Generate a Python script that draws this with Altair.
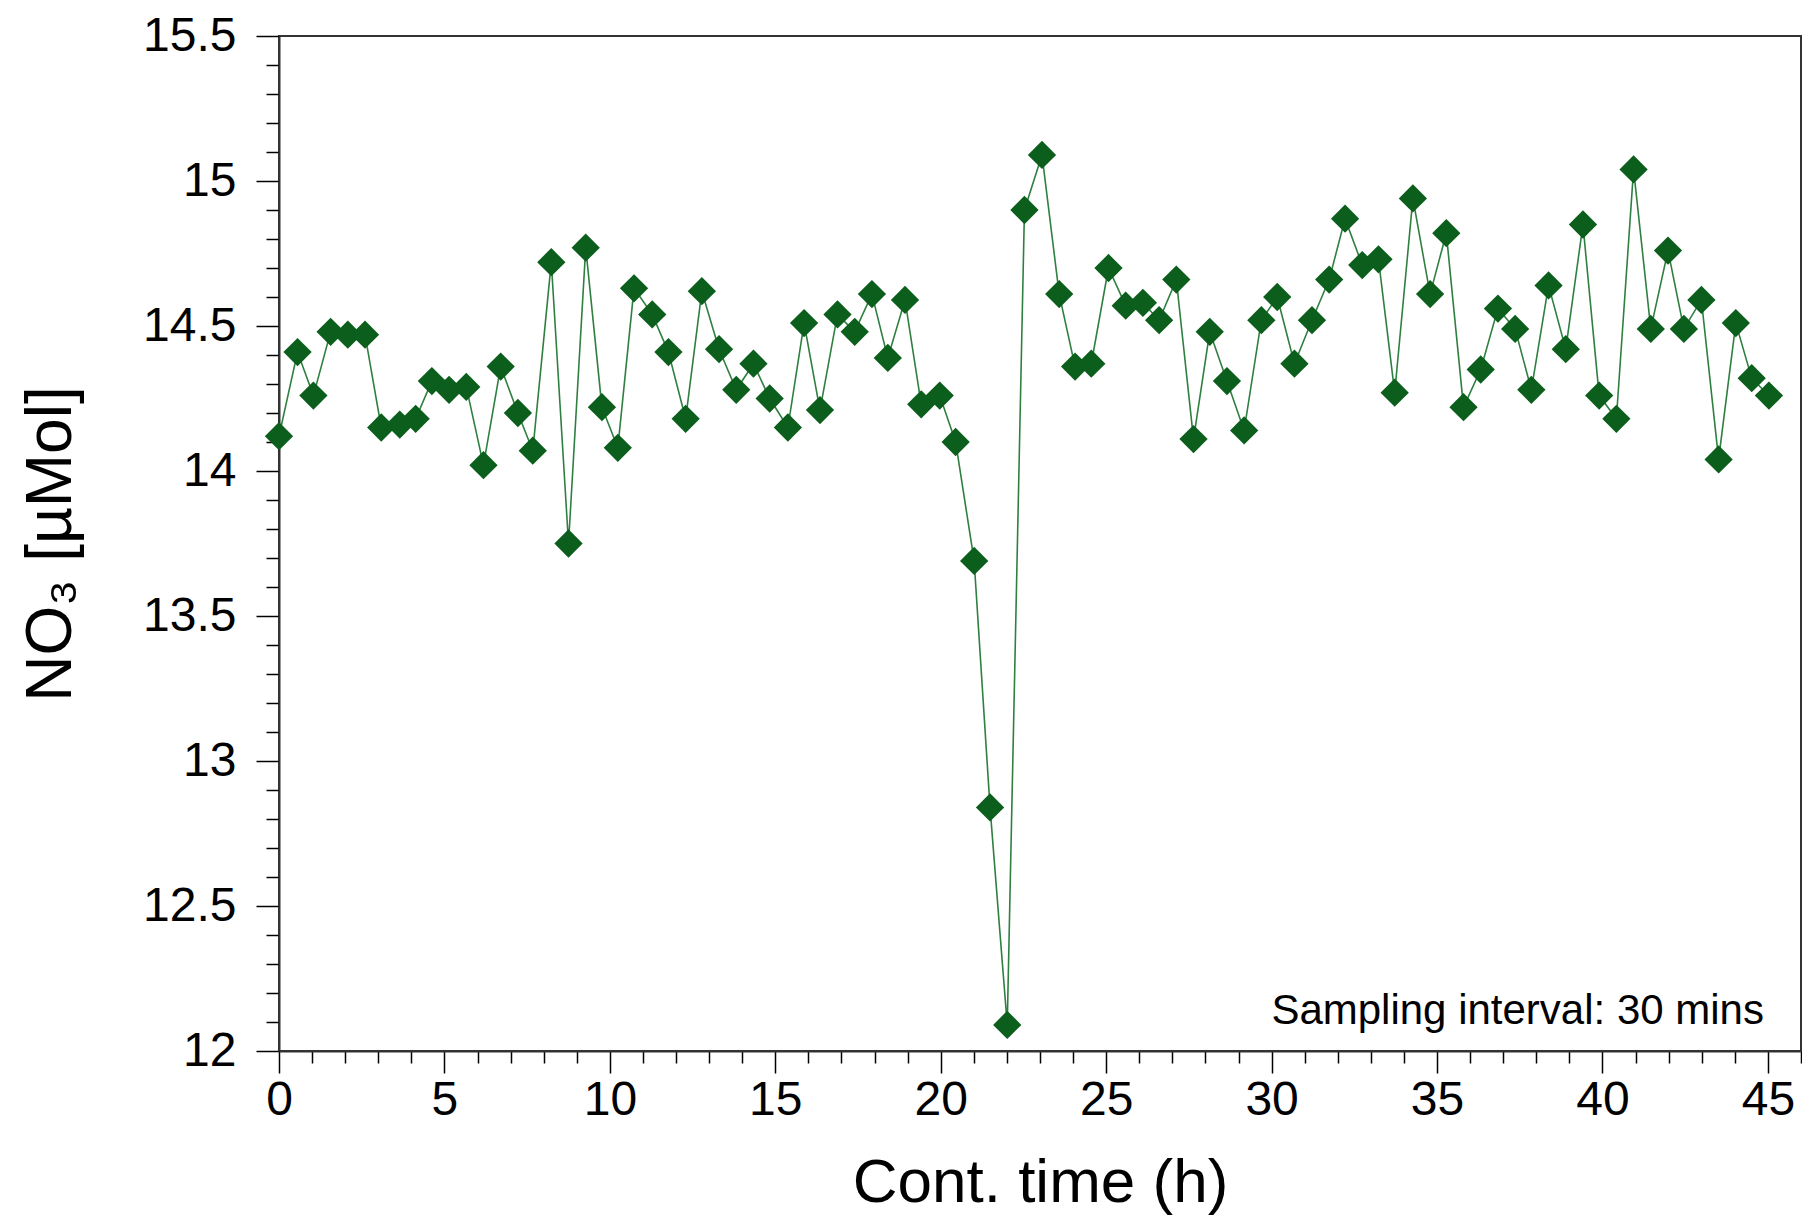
import altair as alt
import pandas as pd

# ---- data ----
time_h = [0.00, 0.56, 1.04, 1.56, 2.08, 2.60, 3.09, 3.65, 4.13, 4.62,
          5.14, 5.66, 6.18, 6.70, 7.22, 7.67, 8.23, 8.75, 9.27, 9.76,
          10.24, 10.73, 11.28, 11.77, 12.29, 12.78, 13.30, 13.82, 14.34, 14.83,
          15.38, 15.87, 16.35, 16.88, 17.40, 17.92, 18.40, 18.92, 19.41, 19.97,
          20.45, 21.01, 21.49, 22.01, 22.53, 23.06, 23.58, 24.06, 24.55, 25.07,
          25.59, 26.11, 26.60, 27.12, 27.64, 28.13, 28.65, 29.17, 29.69, 30.17,
          30.69, 31.22, 31.74, 32.22, 32.74, 33.23, 33.72, 34.27, 34.79, 35.28,
          35.80, 36.32, 36.84, 37.36, 37.85, 38.37, 38.89, 39.41, 39.90, 40.42,
          40.94, 41.46, 41.98, 42.46, 42.99, 43.51, 44.03, 44.51, 45.03]
no3_umol = [14.12, 14.41, 14.26, 14.48, 14.47, 14.47, 14.15, 14.16, 14.18, 14.31,
            14.28, 14.29, 14.02, 14.36, 14.20, 14.07, 14.72, 13.75, 14.77, 14.22,
            14.08, 14.63, 14.54, 14.41, 14.18, 14.62, 14.42, 14.28, 14.37, 14.25,
            14.15, 14.51, 14.21, 14.54, 14.48, 14.61, 14.39, 14.59, 14.23, 14.26,
            14.10, 13.69, 12.84, 12.09, 14.90, 15.09, 14.61, 14.36, 14.37, 14.70,
            14.57, 14.58, 14.52, 14.66, 14.11, 14.48, 14.31, 14.14, 14.52, 14.60,
            14.37, 14.52, 14.66, 14.87, 14.71, 14.73, 14.27, 14.94, 14.61, 14.82,
            14.22, 14.35, 14.56, 14.49, 14.28, 14.64, 14.42, 14.85, 14.26, 14.18,
            15.04, 14.49, 14.76, 14.49, 14.59, 14.04, 14.51, 14.32, 14.26]

x_tick_values = list(range(0, 47))          # minor every 1 h, labelled every 5 h
y_tick_values = [round(12 + 0.1 * i, 1) for i in range(36)]  # minor every 0.1, labelled every 0.5
x_domain = [0, 46]
y_domain = [12, 15.5]

note_text = ["Sampling interval: 30 mins"]
note_x = [44.88]
note_y = [12.093]

x_title = "Cont. time (h)"
y_title = "NO\u2083 [\u00b5Mol]"

# ---- chart ----
df = pd.DataFrame({"t": time_h, "no3": no3_umol})
notes = pd.DataFrame({"t": note_x, "no3": note_y, "label": note_text})

FONT = "Liberation Sans"
MARK_COLOR = "#0b5e1c"
LINE_COLOR = "#2f8040"

W, H = 1522, 1015

x_scale = alt.Scale(domain=x_domain, nice=False, zero=False)
y_scale = alt.Scale(domain=y_domain, nice=False, zero=False)

x_axis = alt.Axis(
    values=x_tick_values,
    labelExpr="datum.value % 5 == 0 ? datum.label : ''",
    tickSize={"condition": {"test": "datum.value % 5 == 0", "value": 22}, "value": 12},
    labelOverlap=False, labelFlush=False, labelBound=False,
    grid=False, labelFont=FONT, labelFontSize=48, labelColor="black",
    labelPadding=3, tickColor="black", tickWidth=1.5,
    domainColor="#333333", domainWidth=2,
    title=x_title, titleFont=FONT, titleFontSize=62, titleFontWeight="normal",
    titleColor="black", titleX=W / 2, titleY=150, titleAlign="center",
    titleBaseline="alphabetic",
)
y_axis = alt.Axis(
    values=y_tick_values, format="~g",
    labelExpr="abs(datum.value * 2 - round(datum.value * 2)) < 0.001 ? datum.label : ''",
    tickSize={"condition": {"test": "abs(datum.value * 2 - round(datum.value * 2)) < 0.001",
                            "value": 23}, "value": 13},
    labelOverlap=False, labelFlush=False, labelBound=False,
    grid=False, labelFont=FONT, labelFontSize=48, labelColor="black",
    labelPadding=20, tickColor="black", tickWidth=1.5,
    domainColor="#333333", domainWidth=2,
    title=y_title, titleFont=FONT, titleFontSize=64, titleFontWeight="normal",
    titleColor="black", titleAngle=270, titleX=-228, titleY=H / 2,
    titleAlign="center", titleBaseline="middle",
)

enc_x = alt.X("t:Q", scale=x_scale, axis=x_axis)
enc_y = alt.Y("no3:Q", scale=y_scale, axis=y_axis)

line = alt.Chart(df).mark_line(color=LINE_COLOR, strokeWidth=1.6).encode(x=enc_x, y=enc_y)
points = alt.Chart(df).mark_point(shape="diamond", filled=True, size=800,
                                  color=MARK_COLOR, opacity=1).encode(x=enc_x, y=enc_y)

note = alt.Chart(notes).mark_text(
    align="right", baseline="alphabetic", font=FONT, fontSize=42, color="black"
).encode(x=enc_x, y=enc_y, text="label:N")

chart = alt.layer(line, points, note).properties(
    width=W, height=H,
    autosize=alt.AutoSizeParams(type="none"),
    padding={"left": 271, "top": 28, "right": 1, "bottom": 165},
    background="white",
).configure_view(stroke="#333333", strokeWidth=2)

chart.save("out.html", embed_options={"renderer": "svg", "actions": False})
